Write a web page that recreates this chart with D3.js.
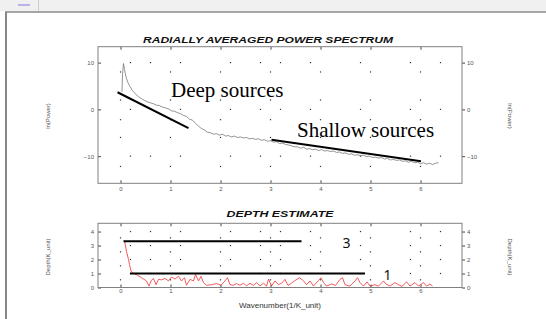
<!DOCTYPE html>
<html>
<head>
<meta charset="utf-8">
<script src="https://cdn.jsdelivr.net/npm/d3@7"></script>
<style>
  body { margin: 0; background: #fff; }
  svg { display: block; }
  .tick text { fill: #555; font-family: "Liberation Sans", Arial, sans-serif; font-size: 6px; }
  .tick line { stroke: #444; }
</style>
</head>
<body>
<div id="chart"></div>
<script>
// Chart data
// ==================================

// radially averaged power spectrum: [wavenumber, ln(Power)]
var spectrum = [
  [0.03, 3.8], [0.04, 7.5], [0.06, 9.8], [0.08, 8.6], [0.10, 7.4], [0.12, 6.6], [0.15, 5.7],
  [0.19, 4.9], [0.24, 4.0], [0.30, 3.3], [0.36, 2.7], [0.42, 2.3], [0.48, 1.9], [0.54, 1.6],
  [0.60, 1.4], [0.66, 1.2], [0.72, 0.9], [0.78, 0.8], [0.84, 0.5], [0.90, 0.3], [0.96, 0.1],
  [1.02, -0.3], [1.08, -0.4], [1.14, -0.7], [1.20, -0.9], [1.26, -1.3], [1.32, -1.5], [1.38, -2.1],
  [1.44, -2.3], [1.50, -3.0], [1.56, -3.6], [1.62, -4.1], [1.68, -4.4], [1.74, -4.9], [1.80, -5.0],
  [1.86, -5.3], [1.92, -5.2], [1.98, -5.5], [2.04, -5.3], [2.10, -5.7], [2.16, -5.6], [2.22, -5.9],
  [2.28, -5.7], [2.34, -6.0], [2.40, -5.9], [2.46, -6.1], [2.52, -6.0], [2.58, -6.3], [2.64, -6.2],
  [2.70, -6.4], [2.76, -6.3], [2.82, -6.6], [2.88, -6.5], [2.94, -6.8], [3.00, -6.7], [3.06, -7.0],
  [3.12, -6.9], [3.18, -7.3], [3.24, -7.2], [3.30, -7.5], [3.36, -7.6], [3.42, -7.8], [3.48, -8.0],
  [3.54, -8.0], [3.60, -8.3], [3.66, -8.1], [3.72, -8.5], [3.78, -8.4], [3.84, -8.6], [3.90, -8.5],
  [3.96, -8.8], [4.02, -8.6], [4.08, -8.9], [4.14, -8.8], [4.20, -9.0], [4.26, -8.9], [4.32, -9.2],
  [4.38, -9.1], [4.44, -9.4], [4.50, -9.3], [4.56, -9.6], [4.62, -9.5], [4.68, -9.8], [4.74, -9.7],
  [4.80, -9.9], [4.86, -9.8], [4.92, -10.1], [4.98, -10.0], [5.04, -10.3], [5.10, -10.2], [5.16, -10.4],
  [5.22, -10.3], [5.28, -10.6], [5.34, -10.5], [5.40, -10.8], [5.46, -10.7], [5.52, -10.9], [5.58, -10.8],
  [5.64, -11.1], [5.70, -11.0], [5.76, -11.3], [5.82, -11.1], [5.88, -11.4], [5.94, -11.3], [6.00, -11.6],
  [6.06, -11.4], [6.12, -11.7], [6.18, -11.5], [6.24, -11.8], [6.30, -11.5], [6.36, -11.4]
];

// straight-line fits drawn over the spectrum
var deepFit = [[-0.06, 3.66], [1.36, -4.0]];
var shallowFit = [[3.02, -6.5], [6.01, -11.1]];

// depth estimate: [wavenumber, depth]
var depthCurve = [
  [0.08, 3.33], [0.12, 2.58], [0.16, 2.0], [0.18, 1.64], [0.21, 1.17], [0.26, 1.0], [0.32, 0.92],
  [0.42, 0.7], [0.52, 0.47], [0.57, 0.1], [0.61, 0.47], [0.66, 0.65], [0.71, 0.2], [0.76, 0.58],
  [0.82, 0.55], [0.89, 0.65], [0.96, 0.47], [1.02, 0.75], [1.09, 0.6], [1.16, 0.8], [1.22, 0.47],
  [1.28, 0.7], [1.32, 0.16], [1.39, 0.58], [1.46, 0.47], [1.50, 0.93], [1.56, 0.47], [1.61, 0.8],
  [1.66, 0.35], [1.72, 0.16], [1.82, 0.2], [1.92, 0.28], [2.01, 0.16], [2.09, 0.47], [2.14, 0.7],
  [2.19, 0.2], [2.26, 0.16], [2.32, 0.28], [2.39, 0.16], [2.46, 0.3], [2.52, 0.12], [2.59, 0.3],
  [2.66, 0.15], [2.72, 0.35], [2.79, 0.12], [2.86, 0.3], [2.92, 0.1], [2.96, 0.6], [3.02, 0.1],
  [3.09, 0.47], [3.16, 0.2], [3.22, 0.3], [3.29, 0.58], [3.35, 0.15], [3.42, 0.3], [3.49, 0.5],
  [3.58, 0.7], [3.66, 0.47], [3.72, 0.2], [3.79, 0.47], [3.86, 0.1], [3.96, 0.5], [4.01, 0.7],
  [4.06, 0.35], [4.12, 0.1], [4.22, 0.25], [4.30, 0.15], [4.39, 0.58], [4.44, 0.7], [4.49, 0.2],
  [4.59, 0.1], [4.69, 0.47], [4.74, 0.7], [4.79, 0.35], [4.86, 0.1], [4.93, 0.4], [4.99, 0.1],
  [5.09, 0.2], [5.16, 0.1], [5.26, 0.47], [5.31, 0.25], [5.39, 0.1], [5.49, 0.35], [5.56, 0.2],
  [5.63, 0.08], [5.72, 0.4], [5.79, 0.1], [5.89, 0.35], [5.96, 0.1], [6.06, 0.35], [6.12, 0.1],
  [6.19, 0.25], [6.24, 0.1]
];

// horizontal depth levels
var depthLevels = [
  { label: "3", k: [0.06, 3.62], depth: 3.3 },
  { label: "1", k: [0.19, 4.89], depth: 1.0 }
];

// ticks
var kTicks = [0, 1, 2, 3, 4, 5, 6];
var powerTicks = [-10, 0, 10];
var depthTicks = [0, 1, 2, 3, 4];

// dot grid positions
var dotColsA = [0.2, 0.6, 1.2, 2.2, 2.8, 3.2, 3.8, 4.8, 5.8, 6.4];
var dotRowsTopB = [8, 2, -2.2, -6, -12.2];
var dotRowsBotB = [3.55, 2.55, 1.55, 0.55];

// Set up the page
// ================
var svgWidth = 546;
var svgHeight = 319;

var svg = d3.select("#chart")
  .append("svg")
  .attr("width", svgWidth)
  .attr("height", svgHeight);

// window-like frame
svg.append("rect").attr("x", 0).attr("y", 0).attr("width", svgWidth).attr("height", 11).attr("fill", "#f0f0f0");
svg.append("rect").attr("x", 18).attr("y", 4).attr("width", 12).attr("height", 2).attr("fill", "#b8b4e8");
svg.append("line").attr("x1", 38.5).attr("x2", 38.5).attr("y1", 0).attr("y2", 11).attr("stroke", "#ccc");
svg.append("line").attr("x1", 5).attr("x2", svgWidth).attr("y1", 12).attr("y2", 12)
  .attr("stroke", "#888").attr("stroke-width", 1.5);
svg.append("line").attr("x1", 6).attr("x2", 6).attr("y1", 12).attr("y2", svgHeight)
  .attr("stroke", "#888").attr("stroke-width", 2);

var font = '"Liberation Sans", Arial, sans-serif';

// Scales
// ======
var xScale = d3.scaleLinear().domain([-0.45, 6.83]).range([98, 462]);
var yTop = d3.scaleLinear().domain([-15.8, 13.4]).range([183.3, 46.7]);
var yBot = d3.scaleLinear().domain([0, 4.59]).range([287.5, 223.3]);

// Helper to draw one panel
// ========================
function drawPanel(yScale, yTicks, title, titleX, titleY, titleW, yLabel, labelY, pad) {
  var g = svg.append("g");
  var x0 = xScale.range()[0], x1 = xScale.range()[1];
  var yb = yScale.range()[0], yt = yScale.range()[1];

  g.append("text")
    .attr("x", titleX - titleW / 2).attr("y", titleY)
    .attr("textLength", titleW).attr("lengthAdjust", "spacingAndGlyphs")
    .attr("font-family", font).attr("font-weight", "bold").attr("font-style", "italic")
    .attr("font-size", 9.5).attr("fill", "#111")
    .text(title);

  // axes
  g.append("g").attr("transform", `translate(${x0},0)`)
    .call(d3.axisLeft(yScale).tickValues(yTicks).tickFormat(d3.format("d"))
      .tickSizeInner(-3).tickSizeOuter(0).tickPadding(4))
    .call(a => a.select(".domain").remove());
  g.append("g").attr("transform", `translate(${x1},0)`)
    .call(d3.axisRight(yScale).tickValues(yTicks).tickFormat(d3.format("d"))
      .tickSize(3).tickPadding(2))
    .call(a => a.select(".domain").remove());
  g.append("g").attr("transform", `translate(0,${yb})`)
    .call(d3.axisBottom(xScale).tickValues(kTicks).tickFormat(d3.format("d"))
      .tickSizeInner(-3).tickSizeOuter(0).tickPadding(pad))
    .call(a => a.select(".domain").remove());
  g.append("g").attr("transform", `translate(0,${yt})`)
    .call(d3.axisTop(xScale).tickValues(kTicks).tickSizeInner(-3).tickSizeOuter(0).tickFormat(""))
    .call(a => a.select(".domain").remove());

  // box
  g.append("rect")
    .attr("x", x0).attr("y", yt).attr("width", x1 - x0).attr("height", yb - yt)
    .attr("fill", "none").attr("stroke", "#808080").attr("stroke-width", 1);

  // y labels on both sides
  g.append("text")
    .attr("transform", `translate(50,${labelY}) rotate(-90)`)
    .attr("text-anchor", "middle").attr("font-family", font).attr("font-size", 6).attr("fill", "#555")
    .text(yLabel);
  g.append("text")
    .attr("transform", `translate(508,${labelY}) rotate(90)`)
    .attr("text-anchor", "middle").attr("font-family", font).attr("font-size", 6).attr("fill", "#555")
    .text(yLabel);

  return g;
}

function drawDots(g, yScale, rowsA, rowsB) {
  var dots = [];
  rowsA.forEach(r => dotColsA.forEach(c => dots.push([c, r])));
  rowsB.forEach(r => kTicks.forEach(c => dots.push([c, r])));
  g.append("g").selectAll("rect")
    .data(dots)
    .enter()
    .append("rect")
    .attr("x", d => xScale(d[0]) - 0.6)
    .attr("y", d => yScale(d[1]) - 0.6)
    .attr("width", 1.2).attr("height", 1.2)
    .attr("fill", "#333");
}

// Top panel: power spectrum
// =========================
var topPanel = drawPanel(yTop, powerTicks, "RADIALLY AVERAGED POWER SPECTRUM", 268, 42.5, 250, "ln(Power)", 116, 3);
drawDots(topPanel, yTop, powerTicks, dotRowsTopB);

var lineTop = d3.line().x(d => xScale(d[0])).y(d => yTop(d[1]));

topPanel.append("path")
  .datum(spectrum)
  .attr("d", lineTop)
  .attr("fill", "none").attr("stroke", "#777").attr("stroke-width", 0.8);

[deepFit, shallowFit].forEach(f => {
  topPanel.append("path")
    .datum(f)
    .attr("d", lineTop)
    .attr("fill", "none").attr("stroke", "#000").attr("stroke-width", 2);
});

topPanel.append("text")
  .attr("x", 171).attr("y", 96.5)
  .attr("font-family", '"Liberation Serif", "Times New Roman", serif').attr("font-size", 21)
  .attr("fill", "#000")
  .text("Deep sources");
topPanel.append("text")
  .attr("x", 297).attr("y", 136.5)
  .attr("font-family", '"Liberation Serif", "Times New Roman", serif').attr("font-size", 21)
  .attr("fill", "#000")
  .text("Shallow sources");

// Bottom panel: depth estimate
// ============================
var botPanel = drawPanel(yBot, depthTicks, "DEPTH ESTIMATE", 280, 216.5, 107, "Depth(K_unit)", 257, 1);
drawDots(botPanel, yBot, [4, 3, 2, 1], dotRowsBotB);

var lineBot = d3.line().x(d => xScale(d[0])).y(d => yBot(d[1]));

botPanel.append("path")
  .datum(depthCurve)
  .attr("d", lineBot)
  .attr("fill", "none").attr("stroke", "#f03030").attr("stroke-width", 0.8);

botPanel.append("g").selectAll("line")
  .data(depthLevels)
  .enter()
  .append("line")
  .attr("x1", d => xScale(d.k[0])).attr("x2", d => xScale(d.k[1]))
  .attr("y1", d => yBot(d.depth)).attr("y2", d => yBot(d.depth))
  .attr("stroke", "#000").attr("stroke-width", 2);

botPanel.append("g").selectAll("text")
  .data(depthLevels)
  .enter()
  .append("text")
  .attr("x", d => d.label === "3" ? 346.5 : 387.5)
  .attr("y", d => d.label === "3" ? 247.5 : 279.5)
  .attr("text-anchor", "middle")
  .attr("font-family", '"Noto Sans", sans-serif').attr("font-size", 14).attr("fill", "#111")
  .text(d => d.label);

svg.append("text")
  .attr("x", 280).attr("y", 307.5)
  .attr("text-anchor", "middle")
  .attr("font-family", font).attr("font-size", 8).attr("fill", "#333")
  .text("Wavenumber(1/K_unit)");
</script>
</body>
</html>
